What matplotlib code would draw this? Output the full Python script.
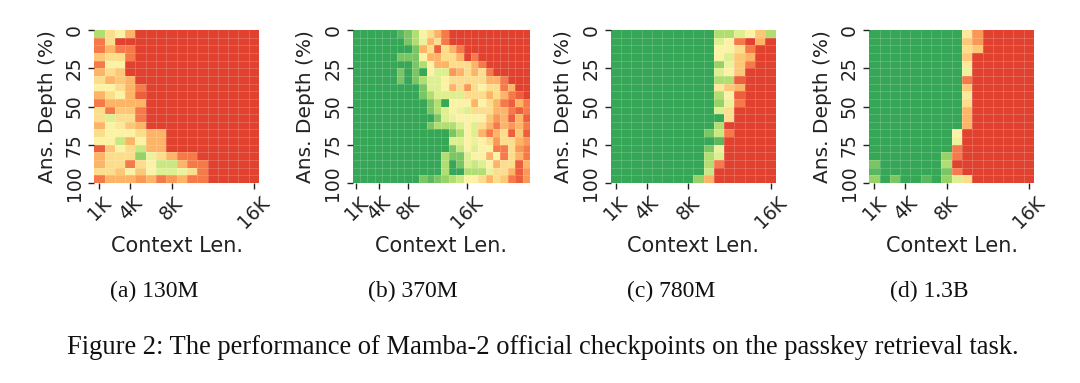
import numpy as np
import matplotlib
matplotlib.use('Agg')
import matplotlib.pyplot as plt
from matplotlib.colors import LinearSegmentedColormap

# value scale: 1 = red end, 5 = pale yellow, 9 = green end; rows are answer depth
vals_130m = [
    [7,4,5,3]+[1]*12,
    [2,4,1,1]+[1]*12,
    [2,3,2,2]+[1]*12,
    [3.5,4,4,2]+[1]*12,
    [2,5,5,1]+[1]*12,
    [3,4,3.5,1]+[1]*12,
    [4,3,3.5,3]+[1]*12,
    [5,5,4,3,2]+[1]*11,
    [3,4,5,3,1.5]+[1]*11,
    [2,3,3,3,3]+[1]*11,
    [4,2,3.5,3.5,2]+[1]*11,
    [4,6,4,4,2]+[1]*11,
    [3,5,4.5,3.5,3]+[1]*11,
    [4,5,5,5,4,3,3]+[1]*9,
    [5,5,6.5,3,5,3,3]+[1]*9,
    [1.5,3.5,5,4,6.5,3,3]+[1]*9,
    [3,4,4,4,7.5,5.5,4,3,2,2]+[1]*6,
    [3,4,4,2,4,5,6.5,6.5,3,2,2]+[1]*5,
    [4,4,3.5,5,3.5,5,6,6,5.5,4,2]+[1]*5,
    [2,3,3,3,2.5,3,2,2.5,3,2,2]+[1]*5,
]
vals_370m = [
    [9]*6+[8.5,8,7,5,4,3,2]+[1]*11,
    [9]*6+[9,8,7,5.5,3,4,2]+[1]*11,
    [9]*7+[9,8,3,4,1.5,4,3,2]+[1]*9,
    [9]*6+[8,8,8,5,3,3,4,4,3,1,2]+[1]*7,
    [9]*7+[9,8,7,5,3,3,4,4,4,3,2]+[1]*6,
    [9]*6+[8,9,8,9,5,6,6,2.5,3,4,3,4,2]+[1]*5,
    [9]*6+[8,9,8,7,6,6,5,4,4,4,4,4,3,3,2]+[1]*3,
    [9]*9+[8,6,6,5,3,4,2.5,4,5,4,4,2,3,1,1],
    [9]*9+[8,7,6,6,6,6,4,4,4,3,4,3,2,1.5,1],
    [9]*10+[8,7,9,5,5,5,3,5,4,3,2,1.5,3,2],
    [9]*10+[8,7,6,5,5.5,6,4,4,4,3,3,2,1.5,2],
    [9]*10+[9,8,6,5.5,5,5,5,5,3.5,2.5,3,1.5,3,1.5],
    [9]*10+[8,7,7,7,6,5,6,4,3,2,3,2.5,3,2],
    [9]*12+[9,8,7,5,6,3,2,3,4,1.5,3.5,1.5],
    [9]*12+[9,6,6,5,5.5,5,4,2.5,4,4,3,2.5],
    [9]*12+[9,8,6.5,5,6,5,5,2,2,4,2.5,2],
    [9]*12+[7,8,8,6,5,5,3,5,2,4,3,2],
    [9]*12+[7,9,8,6,6.5,6,5,3,4,4,1.5,3],
    [9]*12+[7,9,9,7,7,7,5.5,4,4,3,1.5,2.5],
    [9]*9+[8,8.5,8,7.5,7,6.5,5,5,4,3,4,3.5,2,1.5,2.5],
]
vals_780m = [
    [9]*10+[7,7,6,5,3.5,7],
    [9]*10+[6,5,2,1,3,1],
    [9]*10+[5,5,4,2,1,1],
    [9]*10+[5,6,3.5,3,1,1],
    [9]*10+[7.5,5.5,3.5,2,1,1],
    [9]*10+[6,5,3.5,1,1,1],
    [9]*10+[7,7,1.5,1,1,1],
    [9]*10+[4.5,3.5,3,1,1,1],
    [9]*10+[7,5,1.5,1,1,1],
    [9]*10+[7.5,5.5,2,1,1,1],
    [9]*10+[6,4,1,1,1,1],
    [9]*10+[9,4,1,1,1,1],
    [9]*10+[7,1,1,1,1,1],
    [9]*9+[8,6.5,2]+[1]*4,
    [9]*9+[9,8.5,1]+[1]*4,
    [9]*9+[8,5.5]+[1]*5,
    [9]*9+[7,6]+[1]*5,
    [9]*9+[7,2]+[1]*5,
    [9]*9+[6.5,1]+[1]*5,
    [9]*8+[7.5,3]+[1]*6,
]
vals_13b = [
    [9]*9+[4.5,2.5]+[1]*5,
    [9]*9+[3.5,2.5]+[1]*5,
    [9]*9+[4,3.5]+[1]*5,
    [9]*9+[3.5,1]+[1]*5,
    [9]*9+[4.5,1]+[1]*5,
    [9]*9+[5.5,1]+[1]*5,
    [9]*9+[2,1]+[1]*5,
    [9]*9+[3.5,1]+[1]*5,
    [9]*9+[4.5,1]+[1]*5,
    [9]*9+[4,1]+[1]*5,
    [9]*9+[3,1]+[1]*5,
    [9]*9+[3,1]+[1]*5,
    [9]*9+[3,1]+[1]*5,
    [9]*8+[5,1,1]+[1]*5,
    [9]*8+[5.5,1,1]+[1]*5,
    [9]*8+[2,1,1]+[1]*5,
    [9]*7+[7.5,2,1,1]+[1]*5,
    [8]+[9]*6+[7,1,1,1]+[1]*5,
    [8.5]+[9]*6+[8,2,1,1]+[1]*5,
    [7.5,9,8,9,9,8.5,9,7.5,6,4,1]+[1]*5,
]

panels = [vals_130m, vals_370m, vals_780m, vals_13b]
sub_labels = ['(a) 130M', '(b) 370M', '(c) 780M', '(d) 1.3B']
sub_x = [110, 368, 627, 890]
left_px = [94.3, 352.7, 610.7, 869.3]
right_px = [259, 530, 775.7, 1034]
x_ticks = [0.5, 3.5, 7.5, 15.5]
x_tick_labels = ['1K', '4K', '8K', '16K']
y_ticks = [0, 5, 10, 15, 20]
y_tick_labels = ['0', '25', '50', '75', '100']
caption = 'Figure 2: The performance of Mamba-2 official checkpoints on the passkey retrieval task.'

# RdYlGn with a slightly deeper yellow in the middle, the scan looks less white
cmap = LinearSegmentedColormap.from_list('scan', [
    '#a50026', '#d73027', '#f46d43', '#fdae61', '#fcdc8a', '#fbf3a8',
    '#d9ef8b', '#a6d96a', '#66bd63', '#1a9850', '#006837'])

W, H = 1080, 383
fig = plt.figure(figsize=(W/100, H/100), dpi=100)
top_px, bot_px = 30, 183

for i, vals in enumerate(panels):
    ax = fig.add_axes([left_px[i]/W, 1-bot_px/H, (right_px[i]-left_px[i])/W, (bot_px-top_px)/H])
    data = np.array(vals, dtype=float)
    ax.pcolormesh(data, cmap=cmap, vmin=-0.43, vmax=10.53, antialiased=False)
    # faint cell borders
    ax.hlines(range(1, 20), 0, data.shape[1], color='white', alpha=0.2, lw=0.6)
    ax.vlines(range(1, data.shape[1]), 0, 20, color='white', alpha=0.2, lw=0.6)
    ax.set_ylim(20, 0)
    ax.set_xlim(0, data.shape[1])
    for s in ax.spines.values():
        s.set_visible(False)
    ax.set_xticks(x_ticks)
    ax.set_xticklabels(x_tick_labels, rotation=45, fontsize=13.5, color='#222222')
    ax.set_yticks(y_ticks)
    ax.set_yticklabels(y_tick_labels, rotation=90, va='center', fontsize=13.5, color='#222222')
    ax.tick_params(length=4.5, width=1, pad=3, color='#222222')
    ax.set_xlabel('Context Len.', fontsize=15, color='#222222', labelpad=3)
    ax.set_ylabel('Ans. Depth (%)', fontsize=14.5, color='#222222', labelpad=6)
    fig.text(sub_x[i]/W, 1-297/H, sub_labels[i], family='Liberation Serif', fontsize=17, color='#111111')

fig.text(67/W, 1-354/H, caption, family='Liberation Serif', fontsize=19.1, color='#111111')
fig.savefig('out.png', dpi=100)
